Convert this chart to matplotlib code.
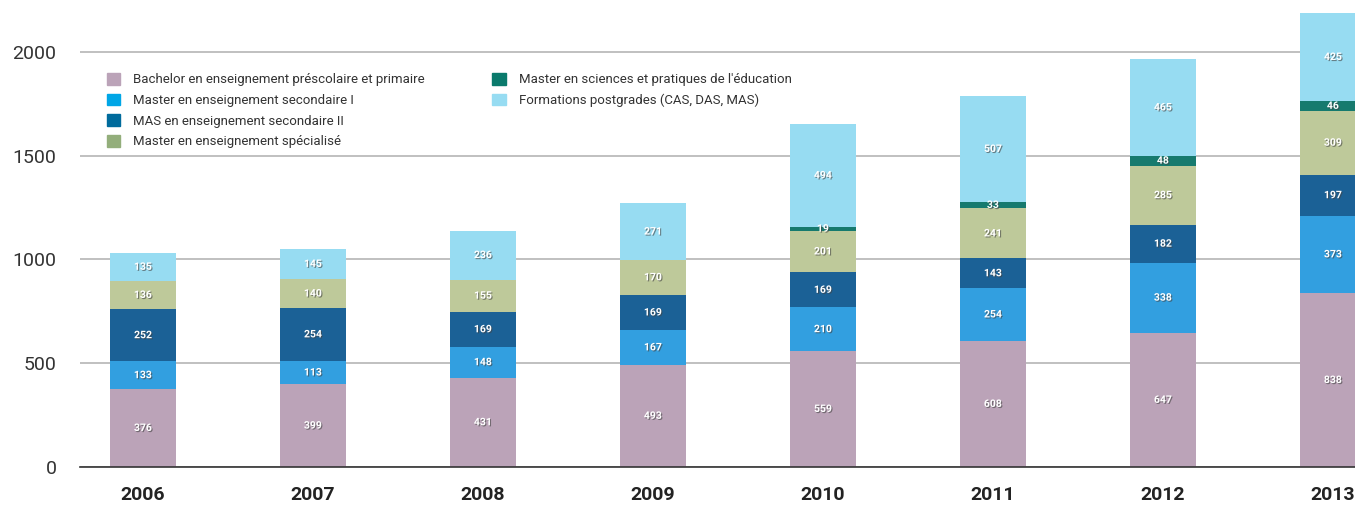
import matplotlib.pyplot as plt
import matplotlib.patheffects as pe
from matplotlib.patches import Patch
import numpy as np

years = ["2006", "2007", "2008", "2009", "2010", "2011", "2012", "2013"]

bachelor = [376, 399, 431, 493, 559, 608, 647, 838]
master_sec1 = [133, 113, 148, 167, 210, 254, 338, 373]
mas_sec2 = [252, 254, 169, 169, 169, 143, 182, 197]
master_spec = [136, 140, 155, 170, 201, 241, 285, 309]
master_sciences = [0, 0, 0, 0, 19, 33, 48, 46]
postgrades = [135, 145, 236, 271, 494, 507, 465, 425]

series = [
    ("Bachelor en enseignement préscolaire et primaire", bachelor, "#bba3b8"),
    ("Master en enseignement secondaire I", master_sec1, "#329fe0"),
    ("MAS en enseignement secondaire II", mas_sec2, "#1b6196"),
    ("Master en enseignement spécialisé", master_spec, "#bec99a"),
    ("Master en sciences et pratiques de l'éducation", master_sciences, "#167a6e"),
    ("Formations postgrades (CAS, DAS, MAS)", postgrades, "#97dcf2"),
]
legend_colors = ["#bba3b8", "#00a6e6", "#006b9c", "#93ae7b", "#0a7a6c", "#97dcf2"]

plt.rcParams['font.family'] = ['Roboto', 'DejaVu Sans']

fig = plt.figure(figsize=(13.55, 5.09), dpi=100)
ax = fig.add_axes([80 / 1355, 42 / 509, 1 - 80 / 1355, 467 / 509])

x = np.arange(len(years))
bottom = np.zeros(len(years))
shadow = [pe.SimplePatchShadow(offset=(0.8, -0.8), shadow_rgbFace="#444444", alpha=0.6), pe.Normal()]
for label, vals, color in series:
    vals = np.array(vals)
    ax.bar(x, vals, 0.39, bottom=bottom, color=color, zorder=3)
    for xi, b, v in zip(x, bottom, vals):
        if v > 0:
            ax.text(xi, b + v / 2, str(v), ha="center", va="center", color="white",
                    fontsize=7.5, fontweight="bold", zorder=4, path_effects=shadow)
    bottom += vals

ax.set_xlim(-0.37, 7.13)
ax.set_ylim(0, 2250)
ax.set_yticks([0, 500, 1000, 1500, 2000])
ax.set_xticks(x)
ax.set_xticklabels(years, fontsize=14, fontweight="bold", color="#222222")
ax.tick_params(axis="y", length=0, pad=17, labelsize=14, labelcolor="#333333")
ax.tick_params(axis="x", length=0, pad=14)
ax.grid(axis="y", color="#bbbbbb", linewidth=1.3, zorder=0)
ax.set_axisbelow(True)
for s in ["top", "right", "left"]:
    ax.spines[s].set_visible(False)
ax.spines["bottom"].set_color("#333333")
ax.spines["bottom"].set_linewidth(1.2)
ax.spines["bottom"].set_zorder(5)

handles = [Patch(color=c) for c in legend_colors]
labels = [s[0] for s in series]
kw = dict(frameon=False, fontsize=9.5, handlelength=1.0, handleheight=1.0,
          handletextpad=1.0, labelspacing=0.55, borderpad=0, borderaxespad=0,
          loc="upper left", labelcolor="#333333")
leg1 = ax.legend(handles[:4], labels[:4], bbox_to_anchor=(0.021, 0.844), **kw)
ax.add_artist(leg1)
ax.legend(handles[4:], labels[4:], bbox_to_anchor=(0.3235, 0.844), **kw)

fig.savefig("out.png", dpi=100)
